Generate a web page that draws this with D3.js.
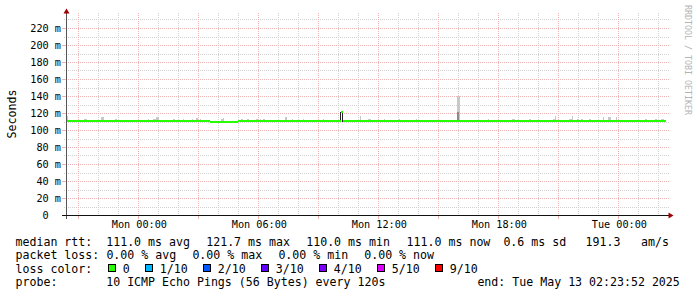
<!DOCTYPE html>
<html>
<head>
<meta charset="utf-8">
<script src="https://cdn.jsdelivr.net/npm/d3@7"></script>
<style>
html, body { margin: 0; padding: 0; background: #fff; }
svg { display: block; }
text { font-family: "DejaVu Sans Mono", monospace; white-space: pre; }
</style>
</head>
<body>
<svg id="chart" width="697" height="297"></svg>
<script>
var W = 697, H = 297;

var parseT = s => d3.timeParse("%Y-%m-%d %H:%M")("2025-" + s);
var endTime = d3.timeParse("%Y-%m-%d %H:%M:%S")("2025-05-13 02:23:52");
var startTime = d3.timeHour.offset(endTime, -30);

// median rtt (ms), held from -> to
var medianFrom = ["05-11 20:24", "05-12 03:36", "05-12 05:00", "05-12 10:09", "05-12 10:15"];
var medianTo   = ["05-12 03:36", "05-12 05:00", "05-12 10:09", "05-12 10:15", "05-13 02:24"];
var medianMs   = [111.0, 109.9, 111.0, 121.7, 111.0];

// smoke: [from, to, min ms, max ms]
var smoke = [
	["05-11 20:27", "05-11 20:30", 110.5, 117.6],
	["05-11 21:18", "05-11 21:27", 110.5, 113.0],
	["05-11 22:09", "05-11 22:18", 110.5, 115.3],
	["05-11 22:51", "05-11 22:57", 110.5, 113.0],
	["05-12 00:30", "05-12 00:33", 110.5, 113.0],
	["05-12 00:45", "05-12 00:54", 110.5, 114.0],
	["05-12 00:54", "05-12 01:03", 110.5, 115.3],
	["05-12 01:45", "05-12 01:51", 110.5, 114.0],
	["05-12 02:15", "05-12 02:18", 110.5, 114.0],
	["05-12 02:42", "05-12 02:45", 110.5, 113.0],
	["05-12 02:54", "05-12 03:00", 110.5, 115.0],
	["05-12 03:06", "05-12 03:09", 110.5, 113.0],
	["05-12 04:09", "05-12 04:15", 109.5, 114.0],
	["05-12 04:15", "05-12 04:18", 109.5, 114.7],
	["05-12 05:09", "05-12 05:15", 110.5, 113.0],
	["05-12 05:27", "05-12 05:33", 110.5, 113.0],
	["05-12 05:54", "05-12 06:00", 110.5, 114.0],
	["05-12 06:06", "05-12 06:09", 110.5, 113.5],
	["05-12 06:15", "05-12 06:21", 110.5, 113.0],
	["05-12 07:21", "05-12 07:27", 110.5, 115.3],
	["05-12 07:42", "05-12 07:45", 110.5, 113.0],
	["05-12 08:15", "05-12 08:18", 110.5, 114.0],
	["05-12 09:15", "05-12 09:18", 110.5, 113.0],
	["05-12 11:06", "05-12 11:09", 110.5, 116.5],
	["05-12 11:30", "05-12 11:39", 110.5, 114.0],
	["05-12 12:18", "05-12 12:21", 110.5, 114.0],
	["05-12 13:03", "05-12 13:06", 110.5, 114.0],
	["05-12 13:54", "05-12 13:57", 110.5, 113.0],
	["05-12 15:57", "05-12 16:06", 110.5, 140.6],
	["05-12 17:30", "05-12 17:33", 110.5, 114.0],
	["05-12 18:42", "05-12 18:51", 110.5, 113.0],
	["05-12 19:33", "05-12 19:39", 110.5, 114.0],
	["05-12 20:45", "05-12 20:51", 110.5, 114.0],
	["05-12 20:51", "05-12 20:54", 110.5, 117.6],
	["05-12 21:33", "05-12 21:42", 110.5, 114.0],
	["05-12 21:42", "05-12 21:45", 110.5, 117.6],
	["05-12 21:57", "05-12 22:03", 110.5, 113.0],
	["05-12 22:09", "05-12 22:15", 110.5, 113.0],
	["05-12 22:33", "05-12 22:39", 110.5, 113.0],
	["05-12 23:15", "05-12 23:18", 110.5, 115.3],
	["05-12 23:30", "05-12 23:39", 110.5, 115.3],
	["05-12 23:54", "05-12 23:57", 110.5, 115.3],
	["05-13 01:21", "05-13 01:27", 110.5, 114.0],
	["05-13 01:51", "05-13 01:57", 110.5, 114.0],
	["05-13 02:09", "05-13 02:18", 110.5, 114.0]
];
// dense part of the smoke (most pings in this band)
var smokeDense = [
	["05-12 10:06", "05-12 10:09", 110.5, 121.5, "#222"],
	["05-12 10:12", "05-12 10:15", 110.0, 121.5, "#222"],
	["05-12 15:57", "05-12 16:03", 110.5, 122.0, "#8c8c8c"]
];

var yTicks = [0, 20, 40, 60, 80, 100, 120, 140, 160, 180, 200, 220];
var yTickLabels = ["0  ", "20 m", "40 m", "60 m", "80 m", "100 m", "120 m", "140 m", "160 m", "180 m", "200 m", "220 m"];

var rttRow = ["median rtt:", "111.0 ms avg", "121.7 ms max", "110.0 ms min", "111.0 ms now", "0.6 ms sd", "191.3", "am/s"];
var lossRow = ["packet loss:", "0.00 % avg", "0.00 % max", "0.00 % min", "0.00 % now"];
var lossLabels = ["0", "1/10", "2/10", "3/10", "4/10", "5/10", "9/10"];
var lossColors = ["#26ff00", "#00b8ff", "#0059ff", "#5e00ff", "#7e00ff", "#dd00ff", "#ff0000"];
var probeRow = ["probe:", "10 ICMP Echo Pings (56 Bytes) every 120s", "end: Tue May 13 02:23:52 2025"];

var gridColor = "#d2d2d2";
var mgridColor = "#ecb4b4";
var arrowColor = "#a00000";

var x = d3.scaleTime().domain([startTime, endTime]).range([66, 666]);
var y = d3.scaleLinear().domain([0, 240]).range([215.5, 11.5]);

var svg = d3.select("#chart");
svg.append("rect").attr("width", W).attr("height", H).attr("fill", "#fff");

var px = v => Math.floor(v) + 0.5;

// grid
var hours = x.ticks(d3.timeHour.every(1));
var majorHours = hours.filter(d => d.getHours() % 3 === 0);
var minorHours = hours.filter(d => d.getHours() % 3 !== 0);

var g = svg.append("g");
g.selectAll(".vminor").data(minorHours).enter().append("line")
	.attr("x1", d => px(x(d))).attr("x2", d => px(x(d)))
	.attr("y1", 13).attr("y2", 217)
	.attr("stroke", gridColor).attr("stroke-dasharray", "1,1");

var yMinor = d3.range(10, 240, 20);
g.selectAll(".hminor").data(yMinor).enter().append("line")
	.attr("x1", 64).attr("x2", 669)
	.attr("y1", d => px(y(d))).attr("y2", d => px(y(d)))
	.attr("stroke", gridColor).attr("stroke-dasharray", "1,1");

g.selectAll(".vmajor").data(majorHours).enter().append("line")
	.attr("x1", d => px(x(d))).attr("x2", d => px(x(d)))
	.attr("y1", 13).attr("y2", 215)
	.attr("stroke", mgridColor).attr("stroke-dasharray", "1,1");
g.selectAll(".vmajortick").data(majorHours).enter().append("line")
	.attr("x1", d => px(x(d))).attr("x2", d => px(x(d)))
	.attr("y1", 215).attr("y2", 219)
	.attr("stroke", mgridColor);

g.selectAll(".hmajor").data(yTicks.slice(1)).enter().append("line")
	.attr("x1", 66).attr("x2", 669)
	.attr("y1", d => px(y(d))).attr("y2", d => px(y(d)))
	.attr("stroke", mgridColor).attr("stroke-dasharray", "1,1");
g.selectAll(".hmajortick").data(yTicks.slice(1)).enter().append("line")
	.attr("x1", 62).attr("x2", 66)
	.attr("y1", d => px(y(d))).attr("y2", d => px(y(d)))
	.attr("stroke", mgridColor);

// smoke
svg.append("g").selectAll("rect").data(smoke).enter().append("rect")
	.attr("x", d => x(parseT(d[0])))
	.attr("width", d => x(parseT(d[1])) - x(parseT(d[0])))
	.attr("y", d => y(d[3]))
	.attr("height", d => y(d[2]) - y(d[3]))
	.attr("fill", "#c8c8c8")
	.attr("shape-rendering", "crispEdges");

svg.append("g").selectAll("rect").data(smokeDense).enter().append("rect")
	.attr("x", d => x(parseT(d[0])))
	.attr("width", d => x(parseT(d[1])) - x(parseT(d[0])))
	.attr("y", d => y(d[3]))
	.attr("height", d => y(d[2]) - y(d[3]))
	.attr("fill", d => d[4])
	.attr("shape-rendering", "crispEdges");

// median line
svg.append("g").selectAll("rect").data(medianMs).enter().append("rect")
	.attr("x", (d, i) => x(parseT(medianFrom[i])))
	.attr("width", (d, i) => x(parseT(medianTo[i])) - x(parseT(medianFrom[i])))
	.attr("y", d => y(d) - 1)
	.attr("height", 2)
	.attr("fill", lossColors[0])
	.attr("shape-rendering", "crispEdges");

// axes lines + arrows
svg.append("line").attr("x1", 66.5).attr("x2", 66.5).attr("y1", 12).attr("y2", 219)
	.attr("stroke", "#555");
svg.append("line").attr("x1", 62).attr("x2", 669).attr("y1", 215.5).attr("y2", 215.5)
	.attr("stroke", "#111");
svg.append("path").attr("d", "M63.5,13.5L69.5,13.5L66.5,8.5Z").attr("fill", arrowColor);
svg.append("path").attr("d", "M668.5,212.5L668.5,218.5L673.5,215.5Z").attr("fill", arrowColor);

// axis labels
var yAxis = d3.axisLeft(y).tickValues(yTicks).tickFormat((d, i) => yTickLabels[i]).tickSize(0).tickPadding(5);
var ya = svg.append("g").attr("transform", "translate(66,0)").call(yAxis);
ya.select(".domain").remove();
ya.selectAll("text").attr("font-family", "DejaVu Sans Mono").attr("font-size", 10.2).attr("fill", "#000");

var xAxis = d3.axisBottom(x).ticks(d3.timeHour.every(6)).tickFormat(d3.timeFormat("%a %H:%M")).tickSize(0).tickPadding(5.5);
var xa = svg.append("g").attr("transform", "translate(0.8,215)").call(xAxis);
xa.select(".domain").remove();
xa.selectAll("text").attr("font-family", "DejaVu Sans Mono").attr("font-size", 10.2).attr("fill", "#000");

svg.append("text").attr("transform", "translate(16,114) rotate(-90)")
	.attr("text-anchor", "middle").attr("font-size", 11.6).text("Seconds");
svg.append("text").attr("transform", "translate(685,5) rotate(90)")
	.attr("font-size", 8.3).attr("fill", "#b4b4b4").text("RRDTOOL / TOBI OETIKER");

// legend
var fs = 11.6;
var base = [245.5, 259.1, 272.7, 286.3];
var rttX = [15.5, 106.2, 206.2, 306.2, 406.6, 503.4, 585.6, 641];
var lossX = [15.5, 106.4, 192.4, 278.4, 364.2];
var leg = svg.append("g").attr("font-size", fs).attr("fill", "#000");
rttRow.forEach((t, i) => leg.append("text").attr("x", rttX[i]).attr("y", base[0]).text(t));
lossRow.forEach((t, i) => leg.append("text").attr("x", lossX[i]).attr("y", base[1]).text(t));

leg.append("text").attr("x", 15.5).attr("y", base[2]).text("loss color:");
var boxX = [108.5, 145.5, 203.5, 261.5, 319.5, 377.5, 435.5];
lossLabels.forEach((t, i) => {
	leg.append("rect").attr("x", boxX[i]).attr("y", 264.5).attr("width", 7).attr("height", 7)
		.attr("fill", lossColors[i]).attr("stroke", "#000");
	leg.append("text").attr("x", boxX[i] + 14.2).attr("y", base[2]).text(t);
});

leg.append("text").attr("x", 15.5).attr("y", base[3]).text(probeRow[0]);
leg.append("text").attr("x", 106.2).attr("y", base[3]).text(probeRow[1]);
leg.append("text").attr("x", 477.4).attr("y", base[3]).text(probeRow[2]);
</script>
</body>
</html>
